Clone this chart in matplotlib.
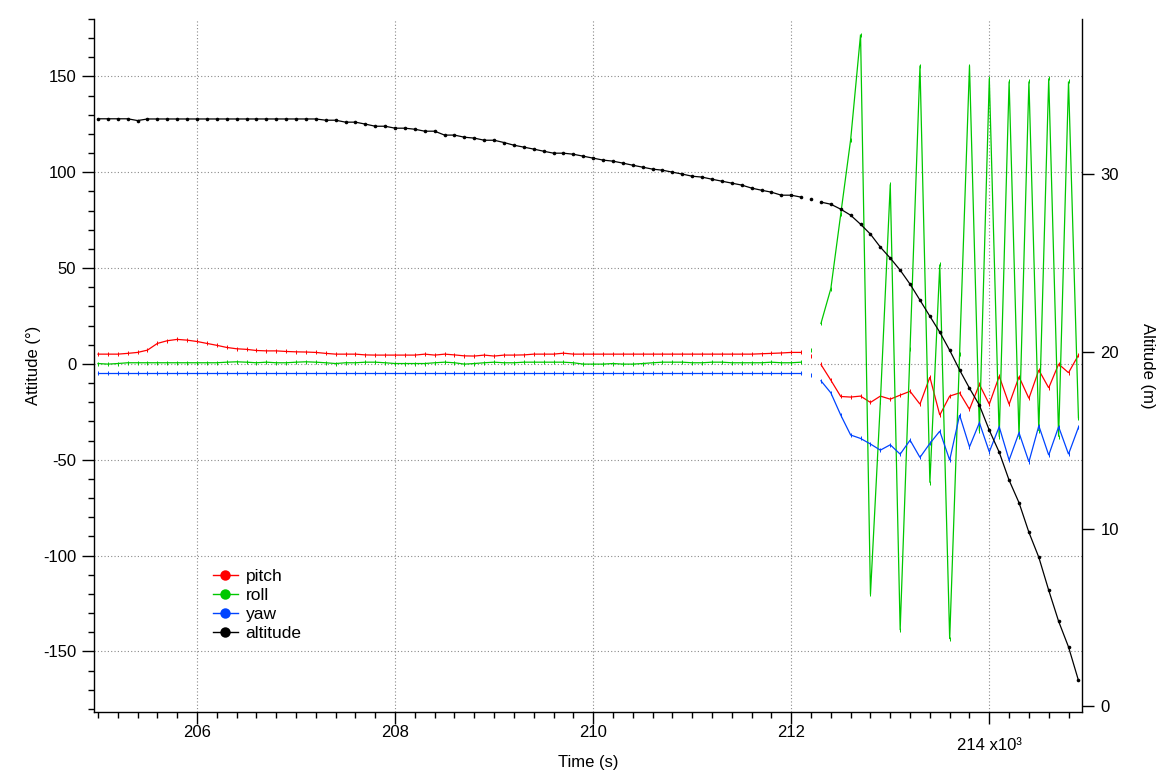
import numpy as np
import matplotlib
matplotlib.use("Agg")
import matplotlib.pyplot as plt
from matplotlib.lines import Line2D
from matplotlib.ticker import MultipleLocator, FuncFormatter, NullLocator
import matplotlib.transforms as mtransforms

plt.rcParams['font.family'] = ['Liberation Sans', 'DejaVu Sans']
plt.rcParams['axes.unicode_minus'] = False

# ---------------- data ----------------
# time in thousands of seconds (axis shows "x10^3")
time_ks = [
    205.0, 205.1, 205.2, 205.3, 205.4, 205.5, 205.6, 205.7, 205.8, 205.9,
    206.0, 206.1, 206.2, 206.3, 206.4, 206.5, 206.6, 206.7, 206.8, 206.9,
    207.0, 207.1, 207.2, 207.3, 207.4, 207.5, 207.6, 207.7, 207.8, 207.9,
    208.0, 208.1, 208.2, 208.3, 208.4, 208.5, 208.6, 208.7, 208.8, 208.9,
    209.0, 209.1, 209.2, 209.3, 209.4, 209.5, 209.6, 209.7, 209.8, 209.9,
    210.0, 210.1, 210.2, 210.3, 210.4, 210.5, 210.6, 210.7, 210.8, 210.9,
    211.0, 211.1, 211.2, 211.3, 211.4, 211.5, 211.6, 211.7, 211.8, 211.9,
    212.0, 212.1, 212.2, 212.3, 212.4, 212.5, 212.6, 212.7, 212.8, 212.9,
    213.0, 213.1, 213.2, 213.3, 213.4, 213.5, 213.6, 213.7, 213.8, 213.9,
    214.0, 214.1, 214.2, 214.3, 214.4, 214.5, 214.6, 214.7, 214.8, 214.9,
]

pitch = [
    5.1, 5.1, 5.1, 5.5, 6.0, 7.2, 10.7, 12.1, 12.8, 12.4,
    11.7, 10.7, 9.7, 8.6, 7.9, 7.6, 7.0, 6.8, 6.8, 6.5,
    6.3, 6.2, 6.0, 5.5, 5.1, 5.1, 5.1, 4.7, 4.6, 4.6,
    4.6, 4.6, 4.6, 5.1, 4.6, 5.1, 4.7, 4.2, 4.1, 4.6,
    4.1, 4.6, 4.6, 4.7, 5.1, 5.1, 5.1, 5.6, 5.1, 5.1,
    5.1, 5.1, 5.1, 5.1, 5.1, 5.1, 5.1, 5.1, 5.1, 5.1,
    5.1, 5.1, 5.1, 5.1, 5.1, 5.1, 5.1, 5.3, 5.5, 5.7,
    6.0, 6.0, 4.1, -0.3, -8.5, -17.0, -17.3, -16.8, -20.1, -16.8,
    -18.4, -16.3, -14.3, -21.0, -6.9, -26.7, -16.8, -15.1, -23.7, -10.7,
    -21.0, -6.4, -21.1, -6.7, -18.0, -3.2, -12.5, -0.1, -4.6, 4.6,
]

roll = [
    0.2, -0.1, 0.2, 0.6, 0.6, 0.6, 0.6, 0.6, 0.6, 0.6,
    0.6, 0.6, 0.6, 0.9, 1.1, 0.9, 0.6, 0.9, 0.6, 0.6,
    0.9, 1.1, 0.9, 0.6, 0.2, 0.6, 0.6, 0.9, 0.9, 0.6,
    0.2, 0.2, 0.2, 0.2, 0.6, 0.9, 0.6, -0.1, 0.2, 0.6,
    0.9, 0.6, 0.6, 0.9, 0.9, 0.9, 0.9, 0.9, 0.6, -0.1,
    -0.1, -0.1, 0.2, -0.1, -0.1, 0.2, 0.6, 0.9, 0.9, 0.9,
    0.6, 0.6, 0.9, 0.9, 0.6, 0.6, 0.6, 0.6, 0.9, 0.6,
    0.6, 0.9, 7.2, 21.1, 39.3, 78.2, 117.0, 171.9, -120.3, -20.0,
    93.7, -138.9, 8.0, 155.7, -62.0, 51.9, -143.6, 5.0, 155.7, -35.0,
    149.0, -38.0, 147.4, -38.0, 147.4, -35.0, 149.0, -38.0, 147.4, -28.1,
]

yaw = [
    -5.0, -5.0, -5.0, -5.0, -5.0, -5.0, -5.0, -5.0, -5.0, -5.0,
    -5.0, -5.0, -5.0, -5.0, -5.0, -5.0, -5.0, -5.0, -5.0, -5.0,
    -5.0, -5.0, -5.0, -5.0, -5.0, -5.0, -5.0, -5.0, -5.0, -5.0,
    -5.0, -5.0, -5.0, -5.0, -5.0, -5.0, -5.0, -5.0, -5.0, -5.0,
    -5.0, -5.0, -5.0, -5.0, -5.0, -5.0, -5.0, -5.0, -5.0, -5.0,
    -5.0, -5.0, -5.0, -5.0, -5.0, -5.0, -5.0, -5.0, -5.0, -5.0,
    -5.0, -5.0, -5.0, -5.0, -5.0, -5.0, -5.0, -5.0, -5.0, -5.0,
    -5.0, -5.0, -6.0, -8.8, -15.1, -26.7, -37.1, -38.9, -41.8, -45.0,
    -42.2, -47.1, -39.8, -48.8, -41.5, -35.1, -50.2, -26.7, -43.3, -30.7,
    -45.9, -32.8, -50.2, -35.9, -51.1, -32.3, -47.6, -32.8, -47.1, -33.1,
]

altitude = [
    33.13, 33.13, 33.13, 33.13, 33.03, 33.12, 33.12, 33.12, 33.12, 33.12,
    33.12, 33.12, 33.12, 33.12, 33.12, 33.12, 33.12, 33.12, 33.12, 33.12,
    33.12, 33.12, 33.12, 33.05, 33.05, 32.94, 32.94, 32.83, 32.71, 32.71,
    32.60, 32.60, 32.54, 32.43, 32.43, 32.21, 32.21, 32.09, 32.04, 31.92,
    31.92, 31.79, 31.64, 31.53, 31.42, 31.30, 31.19, 31.19, 31.13, 31.02,
    30.91, 30.80, 30.74, 30.63, 30.51, 30.40, 30.29, 30.23, 30.12, 30.01,
    29.89, 29.84, 29.72, 29.61, 29.50, 29.39, 29.22, 29.10, 28.99, 28.82,
    28.82, 28.71, 28.59, 28.43, 28.31, 28.03, 27.69, 27.18, 26.62, 25.89,
    25.27, 24.59, 23.80, 22.90, 21.99, 21.09, 20.07, 18.96, 17.93, 16.97,
    15.56, 14.32, 12.74, 11.47, 9.80, 8.39, 6.53, 4.78, 3.33, 1.45,
]

# indices where the recorded trace is interrupted (line breaks before these samples)
breaks = [72, 73]

series_names = ["pitch", "roll", "yaw"]
series_colors = ["#ff0000", "#00c800", "#0044ff"]
alt_color = "#000000"

# ---------------- figure ----------------
W, H = 1156, 773
fig = plt.figure(figsize=(W / 100, H / 100), dpi=100)
L, R, T, B = 94.3, 1081.7, 19.0, 711.7
ax = fig.add_axes([L / W, 1 - B / H, (R - L) / W, (B - T) / H])
ax2 = ax.twinx()

t = np.array(time_ks)
segs = np.split(np.arange(len(t)), breaks)

for name, vals, col in zip(series_names, [pitch, roll, yaw], series_colors):
    v = np.array(vals)
    for s in segs:
        ax.plot(t[s], v[s], color=col, lw=0.9, marker='|', ms=3.0, mew=0.7,
                solid_joinstyle='miter')

alt = np.array(altitude)
for s in segs:
    ax2.plot(t[s], alt[s], color=alt_color, lw=0.9, marker='o', ms=2.6, mew=0)

# ---------------- axes styling ----------------
ax.set_xlim(204.963, 214.933)
ax.set_ylim(-181.5, 180.0)
ax2.set_ylim(-0.32, 38.76)

for a in (ax, ax2):
    a.spines['top'].set_visible(False)
    for sp in a.spines.values():
        sp.set_linewidth(1.0)
ax.spines['right'].set_visible(False)
ax2.spines['left'].set_visible(False)
ax2.spines['bottom'].set_visible(False)

ax.xaxis.set_major_locator(MultipleLocator(2))
ax.xaxis.set_minor_locator(MultipleLocator(0.2))
ax.yaxis.set_major_locator(MultipleLocator(50))
ax.yaxis.set_minor_locator(MultipleLocator(10))
ax2.yaxis.set_major_locator(MultipleLocator(10))
ax2.yaxis.set_minor_locator(NullLocator())

def xfmt(v, pos):
    if abs(v - 214) < 1e-6:
        return ""
    return "%d" % round(v)
ax.xaxis.set_major_formatter(FuncFormatter(xfmt))
ax.yaxis.set_major_formatter(FuncFormatter(lambda v, p: "%d" % round(v)))
ax2.yaxis.set_major_formatter(FuncFormatter(lambda v, p: "%d" % round(v)))

ax.tick_params(axis='both', which='major', direction='out', length=9, width=1.0,
               labelsize=12, pad=4)
ax.tick_params(axis='both', which='minor', direction='out', length=4.5, width=1.0)
ax.tick_params(axis='x', which='major', length=8.5, pad=1)
ax.tick_params(axis='x', which='minor', length=4.3)
ax2.tick_params(axis='y', which='major', direction='out', length=8.5, width=1.0,
                labelsize=12, pad=5)

ax.grid(True, which='major', color='#8a8a8a', lw=0.8, linestyle=(0, (1, 2)))
ax.set_axisbelow(True)

# exponent tick label, drawn lower as in the reference
trans = mtransforms.blended_transform_factory(ax.transData, ax.transAxes)
ax.text(214, (B - 745) / (B - T), "214 x10\u00b3", transform=trans,
        ha='center', va='center', fontsize=12)

ax.set_xlabel("Time (s)", fontsize=12)
ax.xaxis.set_label_coords(0.5, (B - 755) / (B - T))
ax.set_ylabel("Attitude (\u00b0)", fontsize=12)
ax.yaxis.set_label_coords((41 - L) / (R - L), 0.5)
ax2.set_ylabel("Altitude (m)", fontsize=12, rotation=270, va='bottom')
ax2.yaxis.set_label_coords((1140 - L) / (R - L), 0.5)

# legend
handles = [Line2D([0], [0], color=c, lw=1.0, marker='o', ms=7.5, mew=0)
           for c in series_colors + [alt_color]]
labels = series_names + ["altitude"]
ax.legend(handles, labels, loc='upper left', frameon=False,
          bbox_to_anchor=(212.7 / W, 1 - 569 / H), bbox_transform=fig.transFigure,
          borderpad=0, borderaxespad=0, handlelength=1.45, handletextpad=0.45,
          labelspacing=0.22, fontsize=12.5)

fig.savefig("out.png", dpi=100)
